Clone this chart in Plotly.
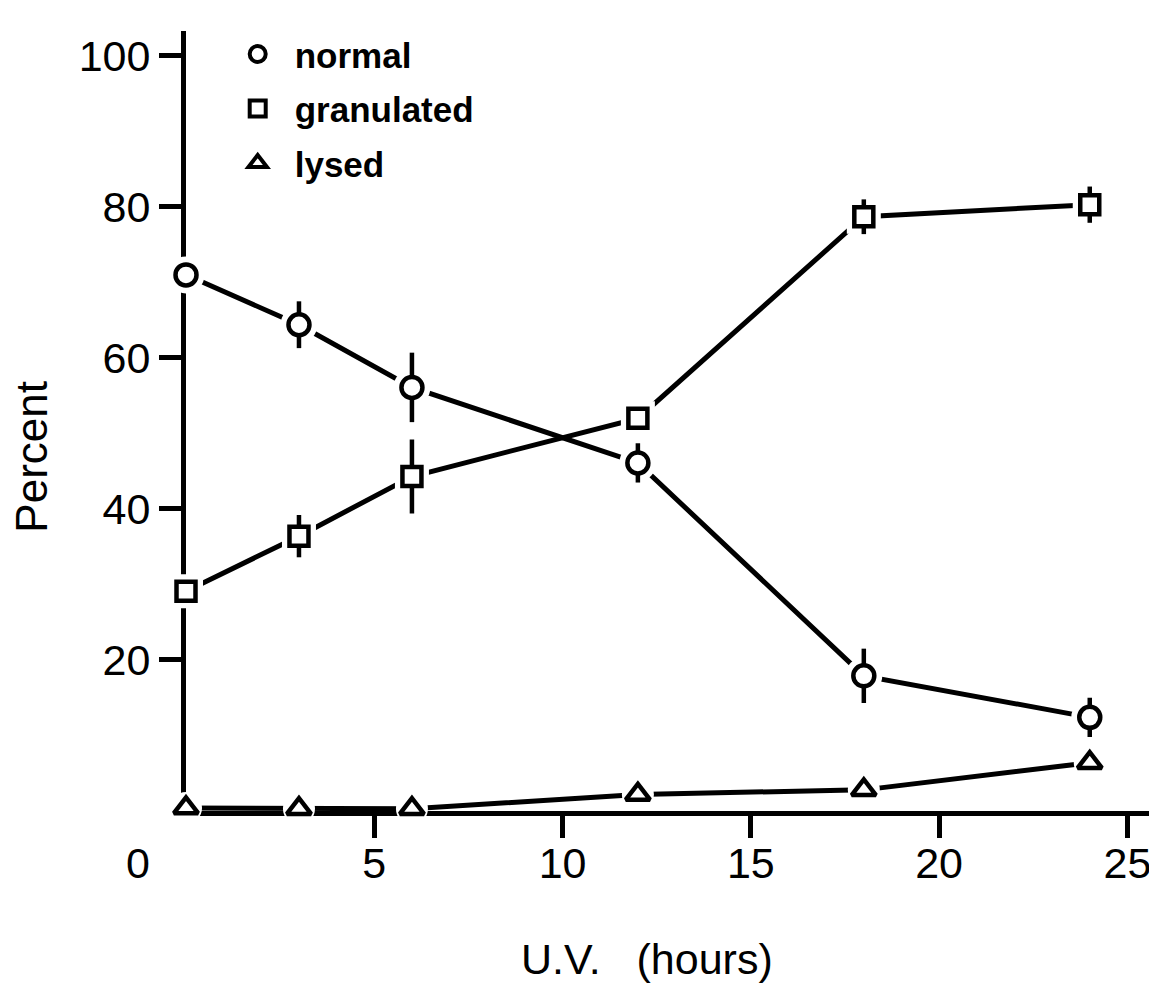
import plotly.graph_objects as go

# ---- data ----
hours = [0, 3, 6, 12, 18, 24]
normal = [71.0, 64.4, 56.1, 46.1, 17.9, 12.4]
normal_err = [0, 3.1, 4.6, 2.6, 3.6, 2.6]
granulated = [29.1, 36.4, 44.3, 52.0, 78.7, 80.3]
granulated_err = [0, 2.8, 4.9, 0, 2.3, 2.4]
lysed = [0.4, 0.3, 0.3, 2.2, 2.8, 6.4]
lysed_err = [0, 0, 0, 0, 0, 0]

series_names = ["normal", "granulated", "lysed"]
x_tick_vals = [5, 10, 15, 20, 25]
y_tick_vals = [20, 40, 60, 80, 100]
x_title = "U.V.\u00a0\u00a0 (hours)"
y_title = "Percent"

FONT = "Liberation Sans, Arial, sans-serif"
INK = "black"

# name, values, errors, symbol, size, halo symbol, halo size
series = [
    (series_names[0], normal, normal_err, "circle", 21, "circle", 37),
    (series_names[1], granulated, granulated_err, "square", 19, "square", 34),
    (series_names[2], lysed, lysed_err, "triangle-up", 21, "circle", 32),
]

fig = go.Figure()

# connecting lines
for name, ys, err, sym, size, hsym, halo in series:
    fig.add_trace(go.Scatter(
        x=hours, y=ys, mode="lines", showlegend=False, hoverinfo="skip",
        line=dict(color=INK, width=5),
    ))

# white halos giving the small gaps around markers
for name, ys, err, sym, size, hsym, halo in series:
    fig.add_trace(go.Scatter(
        x=hours, y=ys, mode="markers", showlegend=False, hoverinfo="skip",
        cliponaxis=False,
        marker=dict(symbol=hsym, size=halo, color="white",
                    line=dict(color="white", width=0)),
    ))

# markers with error bars
for name, ys, err, sym, size, hsym, halo in series:
    fig.add_trace(go.Scatter(
        x=hours, y=ys, mode="markers", showlegend=False, name=name,
        cliponaxis=False,
        marker=dict(symbol=sym, size=size, color="white",
                    line=dict(color=INK, width=4.5)),
        error_y=dict(type="data", array=err, visible=True, width=0,
                     thickness=4.5, color=INK),
    ))

# legend entries (markers only)
for name, ys, err, sym, size, hsym, halo in series:
    fig.add_trace(go.Scatter(
        x=[None], y=[None], mode="markers", name=name, legendgroup=name,
        marker=dict(symbol=sym, size=18, color="white",
                    line=dict(color=INK, width=4)),
    ))

fig.update_layout(
    width=1149, height=984,
    margin=dict(l=178, r=7, t=23, b=181),
    paper_bgcolor="white", plot_bgcolor="white",
    font=dict(family=FONT, size=44, color=INK),
    showlegend=True,
    legend=dict(
        x=0.036, y=1.008, xanchor="left", yanchor="top",
        bgcolor="rgba(0,0,0,0)", borderwidth=0,
        font=dict(family=FONT, size=35, color=INK, weight="bold"),
        itemwidth=64, tracegroupgap=6, traceorder="grouped",
    ),
    xaxis=dict(
        range=[0, 25.6], showgrid=False, zeroline=False,
        showline=True, linecolor=INK, linewidth=5,
        tickmode="array", tickvals=x_tick_vals,
        ticks="outside", ticklen=22, tickwidth=4.5, tickcolor=INK,
        tickfont=dict(family=FONT, size=43, color=INK),
        ticklabelstandoff=-12,
        layer="below traces",
    ),
    yaxis=dict(
        range=[0, 103.3], showgrid=False, zeroline=False,
        showline=True, linecolor=INK, linewidth=5,
        tickmode="array", tickvals=y_tick_vals,
        ticks="outside", ticklen=22, tickwidth=4.5, tickcolor=INK,
        tickfont=dict(family=FONT, size=43, color=INK),
        layer="below traces",
    ),
    annotations=[
        dict(text="0", x=0, y=0, xref="x", yref="y", showarrow=False,
             xshift=-48, yshift=-52, font=dict(size=43, family=FONT, color=INK)),
        dict(text=x_title, x=0.478, y=-0.19, xref="paper", yref="paper",
             showarrow=False, xanchor="center", yanchor="middle",
             font=dict(size=43, family=FONT, color=INK)),
        dict(text=y_title, x=-0.16, y=0.454, xref="paper", yref="paper",
             showarrow=False, xanchor="center", yanchor="middle", textangle=-90,
             font=dict(size=44, family=FONT, color=INK)),
    ],
)

fig.write_html("out.html")
